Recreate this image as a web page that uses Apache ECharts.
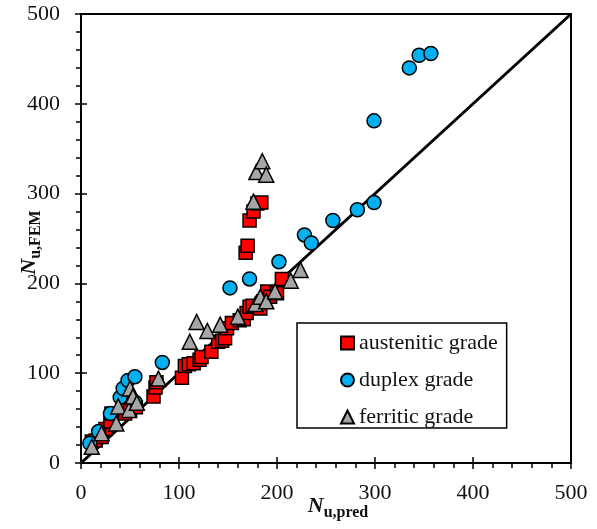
<!DOCTYPE html>
<html><head><meta charset="utf-8">
<script src="https://cdn.jsdelivr.net/npm/echarts@6/dist/echarts.min.js"></script>
<style>html,body{margin:0;padding:0;background:#fff}#c{width:597px;height:529px}</style>
</head><body><div id="c"></div>
<script>
// Data (N_u,pred, N_u,FEM)
const austenitic = [[11,24],[15,25],[21,29],[25,38],[30,46],[31,55],[45,55],[50,59],[56,62],[74,74],[76,84],[77,90],[103,95],[106,108],[110,110],[115,111],[121,115],[123,118],[133,124],[140,135],[144,136],[147,139],[149,150],[154,156],[162,159],[166,160],[169,167],[172,174],[175,175],[183,172],[186,180],[190,191],[193,185],[200,189],[205,205],[168,234],[170,242],[172,270],[176,280],[180,289],[184,290]];
const duplex = [[9,22],[18,35],[30,55],[40,73],[43,83],[48,92],[55,96],[55,68],[83,112],[152,195],[172,205],[202,224],[228,254],[235,245],[257,270],[282,282],[299,290],[299,381],[335,440],[345,454],[357,456]];
const ferritic = [[11,18],[21,33],[36,44],[38,63],[49,59],[50,83],[53,74],[57,67],[79,94],[111,135],[118,157],[129,147],[142,154],[160,163],[178,177],[183,185],[189,180],[198,191],[214,203],[224,215],[176,291],[179,324],[185,336],[189,321]];
const refLine = [[0,0],[500,500]];
const seriesNames = ['austenitic grade','duplex grade','ferritic grade'];
const axisMin = 0, axisMax = 500, axisStep = 100;

const serif = '"Liberation Serif","Times New Roman",serif';
const blk = '#000';
const lbl = {fontFamily: serif, fontSize: 22, color: '#111'};
function mainAxis(extra){
  return Object.assign({
    type:'value', min:axisMin, max:axisMax, interval:axisStep,
    axisLine:{show:true, onZero:false, lineStyle:{color:blk,width:2}},
    axisTick:{show:true,length:6,lineStyle:{color:blk,width:1.5}},
    minorTick:{show:true,splitNumber:5,length:5,lineStyle:{color:blk,width:1.5}},
    splitLine:{show:false}, minorSplitLine:{show:false},
    nameMoveOverlap:false
  }, extra);
}
function innerAxis(pos){
  return {type:'value', min:axisMin, max:axisMax, interval:axisStep, position:pos,
    axisLine:{show:false}, axisTick:{show:true,inside:true,length:6,lineStyle:{color:blk,width:1.5}},
    axisLabel:{show:false}, splitLine:{show:false}};
}
function nameRich(padN, padS){
  return {
    n:{fontFamily:serif,fontSize:22,fontStyle:'italic',fontWeight:'bold',color:'#111',lineHeight:22,padding:padN,verticalAlign:'bottom'},
    s:{fontFamily:serif,fontSize:16,fontWeight:'bold',color:'#111',lineHeight:16,padding:padS,verticalAlign:'bottom'}
  };
}
const chart = echarts.init(document.getElementById('c'));
chart.setOption({
  animation:false,
  backgroundColor:'#fff',
  grid:{left:81,right:26,top:14,bottom:66,outerBoundsMode:'none',containLabel:false,show:true,borderColor:blk,borderWidth:2,backgroundColor:'transparent'},
  xAxis:[
    mainAxis({position:'bottom', axisLabel:Object.assign({margin:19},lbl),
      name:'{n|N}{s|u,pred}', nameLocation:'middle', nameGap:36, nameTextStyle:{rich:nameRich([0,0,4,24],[0,0,0,0])}}),
    innerAxis('bottom')
  ],
  yAxis:[
    mainAxis({position:'left', axisLabel:Object.assign({margin:21},lbl),
      name:'{n|N}{s|u,FEM}', nameLocation:'middle', nameGap:37, nameRotate:90, nameTextStyle:{rich:nameRich([0,0,4,0],[0,8,0,0])}}),
    innerAxis('left')
  ],
  legend:{
    data:seriesNames, orient:'vertical', left:297, top:323,
    padding:[9,9,0,43], itemGap:15, itemWidth:13, itemHeight:13,
    borderColor:blk, borderWidth:1.5, backgroundColor:'#fff',
    textStyle:{fontFamily:serif,fontSize:22,color:'#111',lineHeight:22}
  },
  series:[
    {type:'line', data:refLine, symbol:'none', lineStyle:{color:blk,width:3}, z:1, silent:true},
    {name:seriesNames[0], type:'scatter', data:austenitic, symbol:'rect', symbolSize:13,
      itemStyle:{color:'#ff0000',borderColor:blk,borderWidth:1.5,opacity:1}, z:3},
    {name:seriesNames[1], type:'scatter', data:duplex, symbol:'circle', symbolSize:14,
      itemStyle:{color:'#00b0f0',borderColor:blk,borderWidth:1.5,opacity:1}, z:3},
    {name:seriesNames[2], type:'scatter', data:ferritic, symbol:'triangle', symbolSize:15,
      itemStyle:{color:'#a6a6a6',borderColor:blk,borderWidth:1.5,opacity:1}, z:3}
  ]
});
</script>
</body></html>
